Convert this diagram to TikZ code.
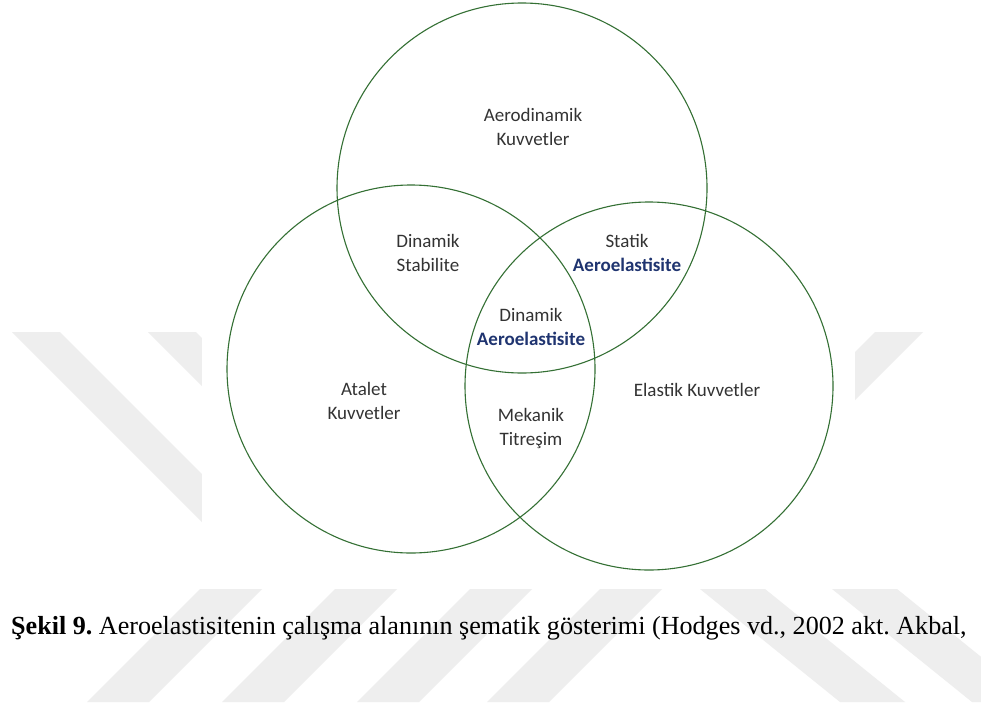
\documentclass[tikz,border=0pt]{standalone}
\usepackage{fontspec}
\setmainfont{Liberation Serif}
\newfontfamily\calibri{Carlito}
\definecolor{ringgreen}{RGB}{52,112,52}
\definecolor{aeroblue}{RGB}{31,52,112}
\definecolor{markgray}{RGB}{238,238,238}
\frenchspacing
\begin{document}
\begin{tikzpicture}[x=1pt,y=-1pt,
    ring/.style={draw=ringgreen,line width=1.1pt},
    lbl/.style={font=\calibri\fontsize{19}{24}\selectfont,align=center,
      text=black!80,inner sep=0pt},
    wmark/.style={fill=markgray,draw=none}]
  \useasboundingbox (0,0) rectangle (981,706);
  \fill[white] (0,0) rectangle (981,706);
  % watermark stripes
  \fill[wmark] (12,332) -- (60,332) -- (316,588) -- (268,588) -- cycle;
  \fill[wmark] (148,332) -- (196,332) -- (452,588) -- (404,588) -- cycle;
  \fill[wmark] (875,332) -- (923,332) -- (667,588) -- (619,588) -- cycle;
  \foreach \t in {200,335,470,600}
    \fill[wmark] (\t,589) -- ++(62,0) -- ++(-113,113) -- ++(-62,0) -- cycle;
  \foreach \s in {700,832}
    \fill[wmark] (\s,589) -- ++(65,0) -- ++(140,113) -- ++(-65,0) -- cycle;
  % figure area
  \fill[white] (202,0) rectangle (855,589);
  \draw[ring] (522,188) circle[radius=185];
  \draw[ring] (411,369) circle[radius=184];
  \draw[ring] (649,386) circle[radius=184];
  \node[lbl] (aero) at (533,127) {Aerodinamik\\Kuvvetler};
  \node[lbl] (dinstab) at (428,253) {Dinamik\\Stabilite};
  \node[lbl] (statik) at (627,253) {Statik\\\textbf{\color{aeroblue}Aeroelastisite}};
  \node[lbl] (dinaero) at (531,327) {Dinamik\\\textbf{\color{aeroblue}Aeroelastisite}};
  \node[lbl] (atalet) at (364,401) {Atalet\\Kuvvetler};
  \node[lbl] (mekanik) at (531,428) {Mekanik\\Titreşim};
  \node[lbl] (elastik) at (697,390) {Elastik Kuvvetler};
  \node[anchor=base west,inner sep=0pt,font=\fontsize{26.1}{31}\selectfont]
    (caption) at (11,634) {\textbf{Şekil 9.} Aeroelastisitenin çalışma alanının
    şematik gösterimi (Hodges vd., 2002 akt. Akbal,};
\end{tikzpicture}
\end{document}
